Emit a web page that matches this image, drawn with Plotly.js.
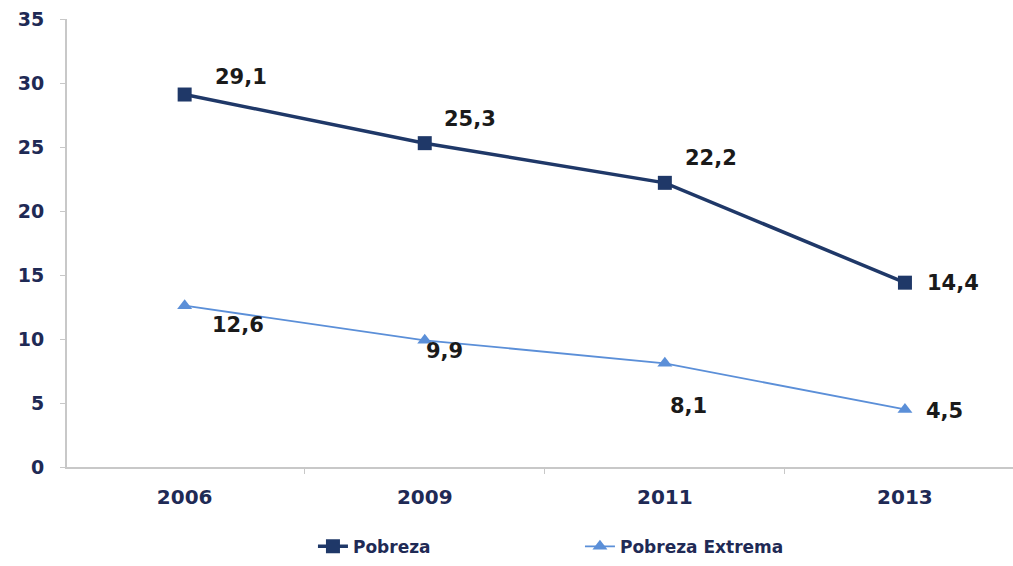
<!DOCTYPE html>
<html>
<head>
<meta charset="utf-8">
<script src="https://cdn.plot.ly/plotly-3.0.1.min.js"></script>
<style>html,body{margin:0;padding:0;background:#fff;}#chart{width:1013px;height:566px;}</style>
</head>
<body>
<div id="chart"></div>
<script>
const years = ["2006", "2009", "2011", "2013"];
const pobreza = [29.1, 25.3, 22.2, 14.4];
const pobrezaExtrema = [12.6, 9.9, 8.1, 4.5];
const pobrezaLabels = ["29,1", "25,3", "22,2", "14,4"];
const extremaLabels = ["12,6", "9,9", "8,1", "4,5"];
const yTicks = [0, 5, 10, 15, 20, 25, 30, 35];

const idx = years.map((_, i) => i);
const navy = "#1f3868";
const light = "#5b8fd8";
const textDark = "#1a1a1a";
const tickColor = "#1f2a55";
const font = "DejaVu Sans, Verdana, sans-serif";

// label offsets (pixels) relative to points
const pOff = [[56, 18], [45, 24], [46, 25], [48, 0]];
const eOff = [[53, -19], [20, -11], [24, -43], [40, -2]];

const annotations = [];
idx.forEach(i => {
  annotations.push({x: i, y: pobreza[i], xref: "x", yref: "y", text: "<b>" + pobrezaLabels[i] + "</b>",
    showarrow: false, xshift: pOff[i][0], yshift: pOff[i][1], font: {family: font, size: 21, color: textDark}});
  annotations.push({x: i, y: pobrezaExtrema[i], xref: "x", yref: "y", text: "<b>" + extremaLabels[i] + "</b>",
    showarrow: false, xshift: eOff[i][0], yshift: eOff[i][1], font: {family: font, size: 21, color: textDark}});
});

const traces = [
  {x: idx, y: pobreza, type: "scatter", mode: "lines+markers", name: "<b>Pobreza</b>",
   line: {color: navy, width: 3.5}, marker: {symbol: "square", size: 14, color: navy}},
  {x: idx, y: pobrezaExtrema, type: "scatter", mode: "lines+markers", name: "<b>Pobreza Extrema</b>",
   line: {color: light, width: 1.8}, marker: {symbol: "triangle-up", size: 13, color: light}}
];

const layout = {
  width: 1013, height: 566,
  margin: {l: 67, r: 0, t: 19, b: 99},
  paper_bgcolor: "#fff", plot_bgcolor: "#fff",
  showlegend: true,
  legend: {orientation: "h", x: 0.26, xanchor: "left", y: -0.138, yanchor: "top",
    font: {family: font, size: 17, color: tickColor}, entrywidth: 222, itemwidth: 30},
  xaxis: {
    range: [-0.49, 3.45], tickmode: "array", tickvals: idx, ticktext: years.map(y => "<b>" + y + "</b>"),
    ticks: "", showgrid: false, zeroline: false, showline: true, linecolor: "#c8c8c8", linewidth: 2,
    tickfont: {family: font, size: 20, color: tickColor}, ticklabelstandoff: 11,
    minor: {tickmode: "array", tickvals: [0.5, 1.5, 2.5], ticks: "outside", ticklen: 5, tickcolor: "#c8c8c8", showgrid: false},
    fixedrange: true
  },
  yaxis: {
    range: [0, 35], tickmode: "array", tickvals: yTicks, ticktext: yTicks.map(v => "<b>" + v + "</b>"),
    ticks: "outside", ticklen: 5, tickcolor: "#c8c8c8", showgrid: false, zeroline: false,
    showline: true, linecolor: "#c8c8c8", linewidth: 2,
    tickfont: {family: font, size: 19, color: tickColor}, ticklabelstandoff: 12, fixedrange: true
  },
  annotations: annotations
};

Plotly.newPlot("chart", traces, layout, {displayModeBar: false, staticPlot: true});
</script>
</body>
</html>
